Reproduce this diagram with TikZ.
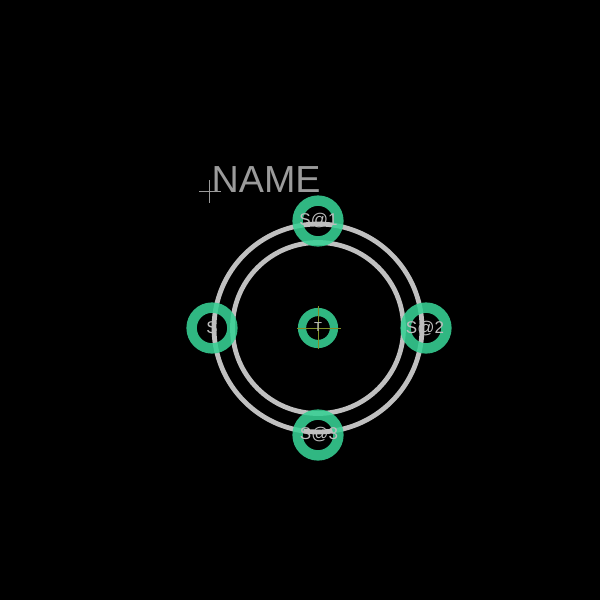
\documentclass[tikz,border=0pt]{standalone}
\usepackage{fontspec}
\setmainfont{Liberation Sans}
\definecolor{ringgray}{RGB}{192,192,192}
\definecolor{padgreen}{RGB}{55,209,148}
\definecolor{txtgray}{RGB}{190,190,190}
\definecolor{namegray}{RGB}{155,155,155}
\definecolor{crossolive}{RGB}{130,145,40}
\tikzset{
  track/.style={draw=ringgray,line width=4.8pt},
  pad/.style={draw=padgreen,opacity=0.88,line width=10.4pt},
  padlabel/.style={text=txtgray,inner sep=0pt,font=\fontsize{17}{17}\selectfont},
  thin cross/.style={draw=crossolive,line width=0.9pt}
}
\begin{document}
\begin{tikzpicture}[x=1pt,y=-1pt]
\useasboundingbox[fill=black] (0,0) rectangle (600,600);
\coordinate (c) at (318,328);
% tracks
\draw[track] (c) circle[radius=104];
\draw[track] (c) circle[radius=85.5];
% pads
\draw[pad] (212,328) circle[radius=20.4];
\draw[pad] (426,328) circle[radius=20.4];
\draw[pad] (318,221) circle[radius=20.4];
\draw[pad] (318,435) circle[radius=20.4];
\draw[pad,line width=8.2pt] (c) circle[radius=16];
% centre cross
\draw[thin cross] (297,328) -- (341,328);
\draw[thin cross] (318,306) -- (318,349);
% origin cross
\draw[draw=namegray,line width=0.9pt] (199,191) -- (221,191);
\draw[draw=namegray,line width=0.9pt] (209,180) -- (209,203);
% labels
\node[anchor=base west,inner sep=0pt,text=namegray,font=\fontsize{37.7}{37.7}\selectfont] (name) at (211.5,192) {NAME};
\node[padlabel] (s0) at (212,327.5) {S};
\node[padlabel] (s1) at (318.5,220.5) {S@1};
\node[padlabel] (s2) at (425,328.5) {S@2};
\node[padlabel] (s3) at (319,435) {S@3};
\node[padlabel,font=\fontsize{13}{13}\selectfont] (t) at (318,327.5) {T};
\end{tikzpicture}
\end{document}
